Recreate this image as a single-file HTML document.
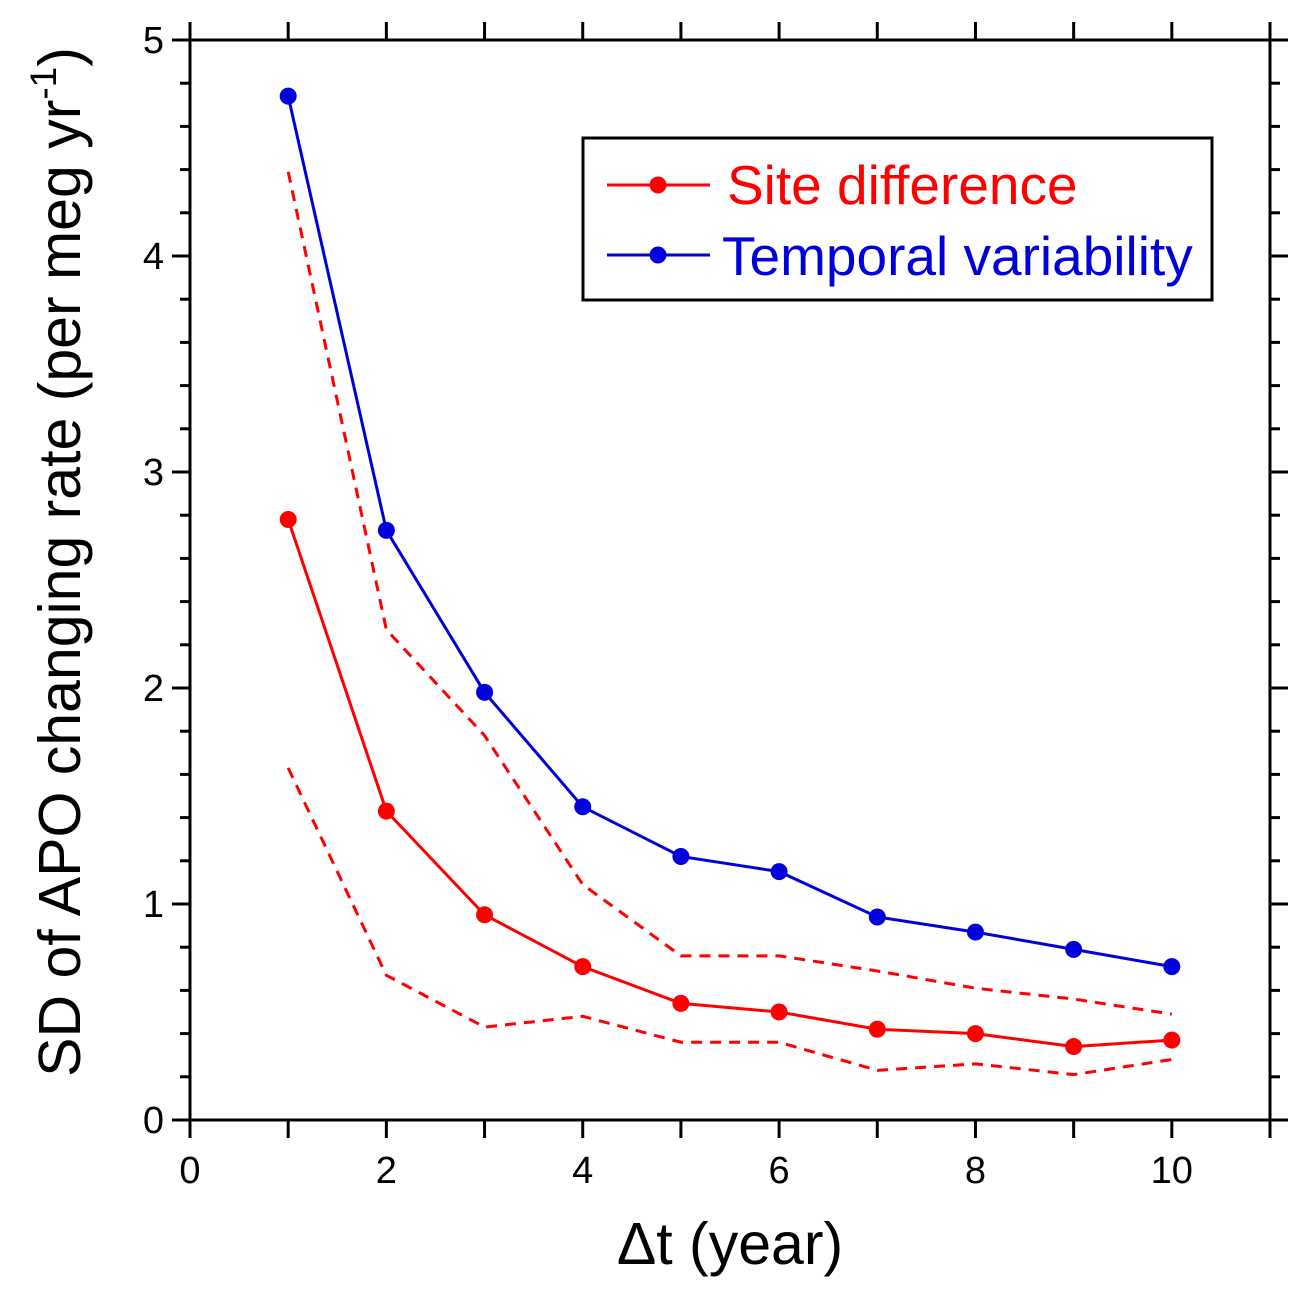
<!DOCTYPE html>
<html><head><meta charset="utf-8"><style>
body{margin:0;background:#fff}
svg text{font-family:"Liberation Sans",Arial,sans-serif}
</style></head><body>
<svg id="chart" width="1303" height="1291" viewBox="0 0 1303 1291">
<rect width="1303" height="1291" fill="#fff"/>
<g id="marks"></g>
<g id="axes"></g>
<rect x="583" y="138" width="629" height="162" fill="#fff" stroke="#000" stroke-width="3"/>
<g>
<line x1="607" y1="185" x2="710" y2="185" stroke="#ff0000" stroke-width="3"/>
<circle cx="658" cy="185" r="8.5" fill="#ff0000"/>
<text x="727" y="204" font-size="55" fill="#ff0000">Site difference</text></g>
<g>
<line x1="607" y1="255" x2="710" y2="255" stroke="#0000dd" stroke-width="3"/>
<circle cx="658" cy="255" r="8.5" fill="#0000dd"/>
<text x="722" y="275" font-size="55" fill="#0000dd">Temporal variability</text></g>
<text x="730" y="1264" font-size="59" text-anchor="middle">Δt (year)</text>
<text transform="translate(80,562) rotate(-90)" font-size="59" text-anchor="middle">SD of APO changing rate (per meg yr<tspan dy="-24" font-size="37">-1</tspan><tspan dy="24">)</tspan></text>
</svg>
<script>
const xs=[1,2,3,4,5,6,7,8,9,10];
const temporal=[4.74,2.73,1.98,1.45,1.22,1.15,0.94,0.87,0.79,0.71];
const site=[2.78,1.43,0.95,0.71,0.54,0.50,0.42,0.40,0.34,0.37];
const siteUpper=[4.39,2.27,1.78,1.09,0.76,0.76,0.69,0.61,0.56,0.49];
const siteLower=[1.63,0.67,0.43,0.48,0.36,0.36,0.23,0.26,0.21,0.28];
const xTickLabels=[0,2,4,6,8,10];
const yTickLabels=[0,1,2,3,4,5];
const X0=190,X1=1270,Y0=1120,Y1=40,XMAX=11,YMAX=5;
const sx=v=>X0+(X1-X0)*v/XMAX, sy=v=>Y0-(Y0-Y1)*v/YMAX;
const NS='http://www.w3.org/2000/svg';
const marks=document.getElementById('marks'),axes=document.getElementById('axes');
function mk(t,a,p){const e=document.createElementNS(NS,t);for(const k in a)e.setAttribute(k,a[k]);p.appendChild(e);return e;}
function line(vals,color,dash,name){
const e=mk('polyline',{points:xs.map((x,i)=>sx(x)+','+sy(vals[i])).join(' '),fill:'none',stroke:color,'stroke-width':3,'stroke-dasharray':dash||'none'},marks);

}
line(siteUpper,'#ff0000','11,8','site-upper-dashed');
line(siteLower,'#ff0000','11,8','site-lower-dashed');
line(site,'#ff0000',null,'site-difference-line');
line(temporal,'#0000dd',null,'temporal-variability-line');
[[site,'#ff0000','site-point'],[temporal,'#0000dd','temporal-point']].forEach(([v,c,n])=>xs.forEach((x,i)=>{
const e=mk('circle',{cx:sx(x),cy:sy(v[i]),r:8.5,fill:c},marks);

}));
const f=mk('rect',{x:X0,y:Y1,width:X1-X0,height:Y0-Y1,fill:'none',stroke:'#000','stroke-width':3},axes);


for(let i=0;i<=XMAX;i++){const x=sx(i);
mk('line',{x1:x,y1:Y0,x2:x,y2:Y0+18,stroke:'#000','stroke-width':3},axes);
mk('line',{x1:x,y1:Y1,x2:x,y2:Y1-18,stroke:'#000','stroke-width':3},axes);}
for(let i=0;i<=25;i++){const y=sy(i*0.2),L=(i%5==0)?18:10;
mk('line',{x1:X0,y1:y,x2:X0-L,y2:y,stroke:'#000','stroke-width':3},axes);
mk('line',{x1:X1,y1:y,x2:X1+L,y2:y,stroke:'#000','stroke-width':3},axes);}
xTickLabels.forEach(v=>{const t=mk('text',{x:sx(v),y:Y0+63,'font-size':38,'text-anchor':'middle'},axes);t.textContent=v;

});
yTickLabels.forEach(v=>{const t=mk('text',{x:X0-26,y:sy(v)+13,'font-size':38,'text-anchor':'end'},axes);t.textContent=v;

});
</script>
</body></html>
